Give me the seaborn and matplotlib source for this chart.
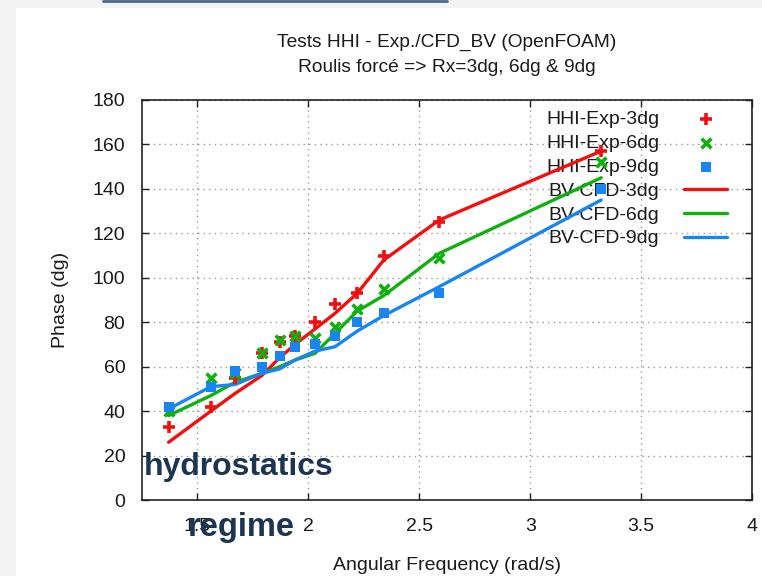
import numpy as np
import pandas as pd
import matplotlib
matplotlib.use("Agg")
import matplotlib.pyplot as plt
import seaborn as sns
from matplotlib.patches import Rectangle

# ---------------- data ----------------
freq = [1.37, 1.56, 1.67, 1.79, 1.87, 1.94, 2.03, 2.12, 2.22, 2.34, 2.59, 3.32]

exp_3dg = [33, 42, 55, 66, 71, 74, 80, 88, 93, 110, 125, 157]
exp_6dg = [40, 55, 57, 66, 72, 74, 73, 78, 86, 95, 109, 152]
exp_9dg = [42, 51, 58, 60, 65, 69, 70, 74, 80, 84, 93, 140]

cfd_3dg = [26, 40, 48, 56, 64, 70, 77, 84, 93, 108, 126, 157]
cfd_6dg = [38, 47, 53, 57, 60, 63, 66, 75, 85, 92, 111, 145]
cfd_9dg = [41, 51, 52, 57, 59, 63, 67, 69, 76, 83, 96, 135]

exp_labels = ["HHI-Exp-3dg", "HHI-Exp-6dg", "HHI-Exp-9dg"]
cfd_labels = ["BV-CFD-3dg", "BV-CFD-6dg", "BV-CFD-9dg"]

x_ticks = [1.5, 2, 2.5, 3, 3.5, 4]
x_tick_labels = ["1.5", "2", "2.5", "3", "3.5", "4"]
y_ticks = [0, 20, 40, 60, 80, 100, 120, 140, 160, 180]

title_lines = ["Tests HHI - Exp./CFD_BV (OpenFOAM)", "Roulis forcé => Rx=3dg, 6dg & 9dg"]
xlabel = "Angular Frequency (rad/s)"
ylabel = "Phase (dg)"

# ---------------- styling ----------------
sns.set_theme(style="white")
plt.rcParams["font.family"] = ["Liberation Sans", "DejaVu Sans"]

red = "#f01010"
green = "#10b010"
blue = "#1a84f0"
colors = [red, green, blue]
txt = "#1a1a1a"
fs = 14

fig = plt.figure(figsize=(7.62, 5.76), dpi=100)
fig.patch.set_facecolor("white")
# light slide margins
fig.add_artist(Rectangle((0, 0), 0.021, 1, transform=fig.transFigure,
                         facecolor="#f3f3f3", edgecolor="none", zorder=0))
fig.add_artist(Rectangle((0, 0.986), 1, 0.014, transform=fig.transFigure,
                         facecolor="#f3f3f3", edgecolor="none", zorder=0))
fig.add_artist(plt.Line2D([0.135, 0.587], [0.998, 0.998], transform=fig.transFigure,
                          color="#4d6a8c", lw=2.0))

ax = fig.add_axes([0.1864, 0.1319, 0.8005, 0.6945])

exp_df = pd.DataFrame({
    "freq": freq * 3,
    "phase": exp_3dg + exp_6dg + exp_9dg,
    "series": sum([[l] * len(freq) for l in exp_labels], []),
})
cfd_df = pd.DataFrame({
    "freq": freq * 3,
    "phase": cfd_3dg + cfd_6dg + cfd_9dg,
    "series": sum([[l] * len(freq) for l in cfd_labels], []),
})

sns.lineplot(data=cfd_df, x="freq", y="phase", hue="series", hue_order=cfd_labels,
             palette=colors, linewidth=2.4, ax=ax, sort=False, estimator=None, zorder=3)

sub = exp_df[exp_df.series == exp_labels[0]]
ax.scatter(sub.freq, sub.phase, marker="+", s=75, color=red, linewidths=2.6,
           zorder=4, label=exp_labels[0])
sub = exp_df[exp_df.series == exp_labels[1]]
ax.scatter(sub.freq, sub.phase, marker="x", s=50, color=green, linewidths=2.6,
           zorder=4, label=exp_labels[1])
sub = exp_df[exp_df.series == exp_labels[2]]
ax.scatter(sub.freq, sub.phase, marker="s", s=58, color=blue, linewidths=0,
           zorder=4, label=exp_labels[2])

ax.set_xlim(1.25, 4)
ax.set_ylim(0, 180)
ax.set_xticks(x_ticks)
ax.set_xticklabels(x_tick_labels)
ax.set_yticks(y_ticks)
ax.grid(True, linestyle=(0, (1, 3)), color="#9a9a9a", linewidth=1.0)
ax.set_axisbelow(True)
for s in ax.spines.values():
    s.set_color("#222222")
    s.set_linewidth(1.2)
ax.tick_params(axis="both", direction="in", length=5, width=1, color="#222222",
               labelsize=fs, labelcolor=txt, top=True, right=True,
               bottom=True, left=True)
ax.tick_params(axis="y", pad=12)
ax.tick_params(axis="x", pad=13)

ax.set_xlabel(xlabel, fontsize=fs, color=txt, labelpad=16)
ax.set_ylabel(ylabel, fontsize=fs, color=txt, labelpad=17)
ax.set_title("\n".join(title_lines), fontsize=13.8, color=txt, pad=20,
             linespacing=1.6)

handles, labels = ax.get_legend_handles_labels()
order = [labels.index(l) for l in exp_labels + cfd_labels]
leg = ax.legend([handles[i] for i in order], [labels[i] for i in order],
                loc="upper right", markerfirst=False, frameon=False,
                fontsize=fs, handlelength=2.2, handletextpad=1.3,
                labelspacing=0.32, borderaxespad=0.0,
                bbox_to_anchor=(0.972, 0.993))
leg.set_zorder(2)
for t in leg.get_texts():
    t.set_color(txt)

# overlay annotation text
fig.text(0.189, 0.176, "hydrostatics", fontsize=23, fontweight="bold",
         color="#1c3553", ha="left", va="baseline")
fig.text(0.246, 0.069, "regime", fontsize=23.5, fontweight="bold",
         color="#1c3553", ha="left", va="baseline")

fig.savefig("out.png", dpi=100)
